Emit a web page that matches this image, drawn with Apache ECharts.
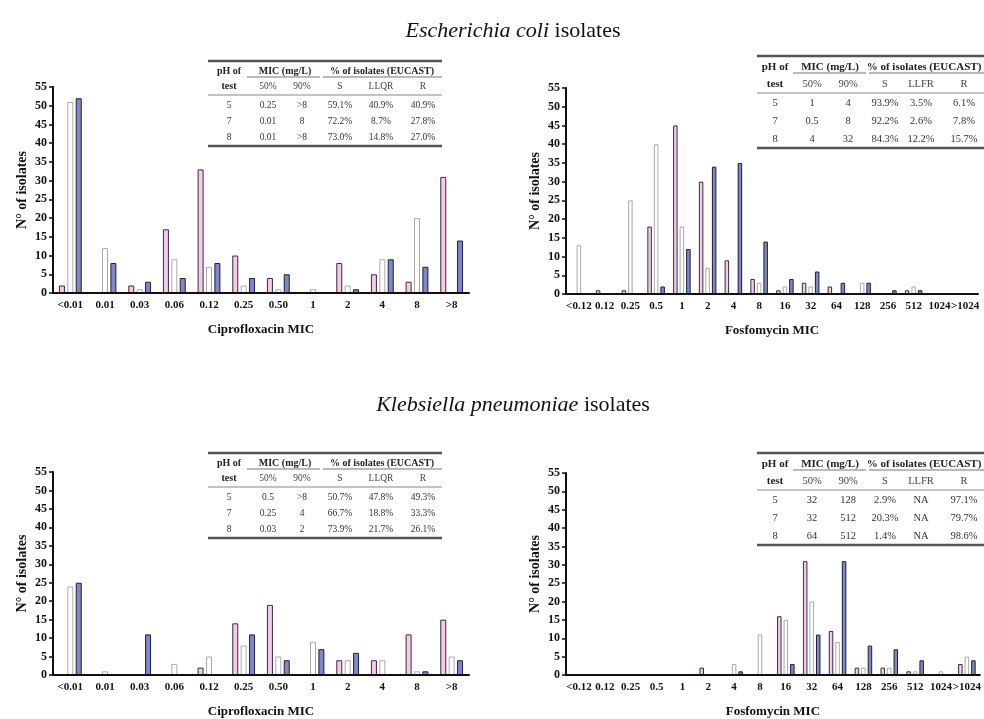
<!DOCTYPE html>
<html><head><meta charset="utf-8">
<script src="https://cdn.jsdelivr.net/npm/echarts@6/dist/echarts.min.js"></script>
<style>html,body{margin:0;padding:0;background:#fff}#c{width:984px;height:719px}</style>
</head><body><div id="c"></div>
<script>
// ---------- DATA ----------
const cipCats = ['<0.01','0.01','0.03','0.06','0.12','0.25','0.50','1','2','4','8','>8'];
const fosCats = ['<0.12','0.12','0.25','0.5','1','2','4','8','16','32','64','128','256','512','1024','>1024'];
const yTickMax = 55, yTickStep = 5;

const ecCipPH5 = [2,0,2,17,33,10,4,0,8,5,3,31];
const ecCipPH7 = [51,12,1,9,7,2,1,1,2,9,20,0];
const ecCipPH8 = [52,8,3,4,8,4,5,0,1,9,7,14];

const ecFosPH5 = [0,1,1,18,45,30,9,4,1,3,2,0,0,1,0,0];
const ecFosPH7 = [13,0,25,40,18,7,0,3,2,2,0,3,0,2,0,0];
const ecFosPH8 = [0,0,0,2,12,34,35,14,4,6,3,3,1,1,0,0];

const kpCipPH5 = [0,0,0,0,2,14,19,0,4,4,11,15];
const kpCipPH7 = [24,1,0,3,5,8,5,9,4,4,1,5];
const kpCipPH8 = [25,0,11,0,0,11,4,7,6,0,1,4];

const kpFosPH5 = [0,0,0,0,0,2,0,0,16,31,12,2,2,1,0,3];
const kpFosPH7 = [0,0,0,0,0,0,3,11,15,20,9,2,2,1,1,5];
const kpFosPH8 = [0,0,0,0,0,0,1,0,3,11,31,8,7,4,0,4];

const cipSub = ['50%','90%','S','LLQR','R'];
const fosSub = ['50%','90%','S','LLFR','R'];
const ecCipTable = [['5','0.25','>8','59.1%','40.9%','40.9%'],['7','0.01','8','72.2%','8.7%','27.8%'],['8','0.01','>8','73.0%','14.8%','27.0%']];
const ecFosTable = [['5','1','4','93.9%','3.5%','6.1%'],['7','0.5','8','92.2%','2.6%','7.8%'],['8','4','32','84.3%','12.2%','15.7%']];
const kpCipTable = [['5','0.5','>8','50.7%','47.8%','49.3%'],['7','0.25','4','66.7%','18.8%','33.3%'],['8','0.03','2','73.9%','21.7%','26.1%']];
const kpFosTable = [['5','32','128','2.9%','NA','97.1%'],['7','32','512','20.3%','NA','79.7%'],['8','64','512','1.4%','NA','98.6%']];

// ---------- STYLE ----------
const F = '"Liberation Serif", "DejaVu Serif", serif';
const PINK = '#f8c6f1', BLUE = '#7c85d6';

const grids = [
  {left:53, top:87, width:416, height:206},
  {left:566, top:88, width:412, height:206},
  {left:53, top:472, width:416, height:207},
  {left:566, top:473, width:414, height:206}
];

function xAx(gi, cats, name){
  return {type:'category', gridIndex:gi, data:cats, name:name, nameLocation:'middle', nameGap:30, z:5,
    nameTextStyle:{fontFamily:F, fontWeight:'bold', fontSize:13, color:'#111'},
    axisLine:{lineStyle:{color:'#111', width:2}},
    axisTick:{alignWithLabel:true, length:5, lineStyle:{width:1.5, color:'#111'}},
    axisLabel:{interval:0, fontFamily:F, fontWeight:'bold', fontSize:11, color:'#111', margin:7},
    splitLine:{show:false}};
}
function yAx(gi){
  return {type:'value', gridIndex:gi, min:0, max:yTickMax, interval:yTickStep, z:5,
    name:'N° of isolates', nameLocation:'middle', nameGap:24, nameRotate:90,
    nameTextStyle:{fontFamily:F, fontWeight:'bold', fontSize:14, color:'#111'},
    axisLine:{show:true, lineStyle:{color:'#111', width:2}},
    axisTick:{show:true, length:4, lineStyle:{width:1.5, color:'#111'}},
    axisLabel:{fontFamily:F, fontWeight:'bold', fontSize:12, color:'#111', margin:6},
    splitLine:{show:false}};
}
function bars(gi, data, kind, bw, gap){
  const st = kind==='p' ? {color:PINK, borderColor:'#333', borderWidth:1}
           : kind==='w' ? {color:'#fff', borderColor:'#aaa', borderWidth:1}
           : {color:BLUE, borderColor:'#222', borderWidth:1};
  return {type:'bar', xAxisIndex:gi, yAxisIndex:gi, data:data, barWidth:bw, barGap:gap,
    itemStyle:st, silent:true, animation:false, z:2};
}

// ---------- TABLES ----------
function table(x0, x1, top, cols, mic, pct, sub, rows, fs, off){
  const g = [];
  const line = (xa, xb, y, w, c) => g.push({type:'line', shape:{x1:xa, y1:y, x2:xb, y2:y}, style:{stroke:c||'#555', lineWidth:w}});
  const txt = (x, y, t, bold, size, color) => g.push({type:'text', x:x, y:y, style:{text:t, fontFamily:F, fontWeight:bold?'bold':'normal', fontSize:size, fill:color||'#222', align:'center', verticalAlign:'middle'}});
  line(x0, x1, top, 2.5, '#555');
  txt(cols[0], top+off[0], 'pH of', true, fs);
  txt(cols[0], top+off[2], 'test', true, fs);
  txt((cols[1]+cols[2])/2, top+off[0], 'MIC (mg/L)', true, fs);
  txt(pct.c, top+off[0], '% of isolates (EUCAST)', true, fs);
  line(mic[0], mic[1], top+off[1], 1.2, '#777');
  line(pct.a, pct.b, top+off[1], 1.2, '#777');
  sub.forEach((s,i)=>txt(cols[i+1], top+off[2], s, false, fs-0.5, '#444'));
  line(x0, x1, top+off[3], 1.2, '#888');
  rows.forEach((r,ri)=>r.forEach((v,ci)=>txt(cols[ci], top+off[4+ri], v, false, fs-0.5, '#333')));
  line(x0, x1, top+off[7], 2.5, '#555');
  return g;
}
const offL = [10,16,25,34,44,60,76,85];
const offR = [11,17,28,37,47,65,83,92];
const colsL = [229,268,302,340,381,423];
const colsR = [775,812,848,885,921,964];

const graphic = [].concat(
  table(208, 442, 61, colsL, [247,320], {a:323,b:442,c:382}, cipSub, ecCipTable, 10, offL),
  table(757, 990, 56, colsR, [793,866], {a:869,b:990,c:924}, fosSub, ecFosTable, 11, offR),
  table(208, 442, 453, colsL, [247,320], {a:323,b:442,c:382}, cipSub, kpCipTable, 10, offL),
  table(757, 990, 453, colsR, [793,866], {a:869,b:990,c:924}, fosSub, kpFosTable, 11, offR)
);

const titleRich = {i:{fontStyle:'italic', fontFamily:F, fontSize:22, color:'#111'}};
const option = {
  backgroundColor:'#fff',
  animation:false,
  title:[
    {text:'{i|Escherichia coli} isolates', left:508, top:15, textAlign:'center', textStyle:{fontFamily:F, fontSize:22, fontWeight:'normal', color:'#111', rich:titleRich}},
    {text:'{i|Klebsiella pneumoniae} isolates', left:508, top:389, textAlign:'center', textStyle:{fontFamily:F, fontSize:22, fontWeight:'normal', color:'#111', rich:titleRich}}
  ],
  grid:grids,
  xAxis:[xAx(0,cipCats,'Ciprofloxacin MIC'), xAx(1,fosCats,'Fosfomycin MIC'), xAx(2,cipCats,'Ciprofloxacin MIC'), xAx(3,fosCats,'Fosfomycin MIC')],
  yAxis:[yAx(0), yAx(1), yAx(2), yAx(3)],
  series:[
    bars(0, ecCipPH5, 'p', 6, '40%'), bars(0, ecCipPH7, 'w', 6, '40%'), bars(0, ecCipPH8, 'b', 6, '40%'),
    bars(1, ecFosPH5, 'p', 4.5, '45%'), bars(1, ecFosPH7, 'w', 4.5, '45%'), bars(1, ecFosPH8, 'b', 4.5, '45%'),
    bars(2, kpCipPH5, 'p', 6, '40%'), bars(2, kpCipPH7, 'w', 6, '40%'), bars(2, kpCipPH8, 'b', 6, '40%'),
    bars(3, kpFosPH5, 'p', 4.5, '45%'), bars(3, kpFosPH7, 'w', 4.5, '45%'), bars(3, kpFosPH8, 'b', 4.5, '45%')
  ],
  graphic:graphic
};
const chart = echarts.init(document.getElementById('c'), null, {renderer:'canvas'});
chart.setOption(option);
</script></body></html>
